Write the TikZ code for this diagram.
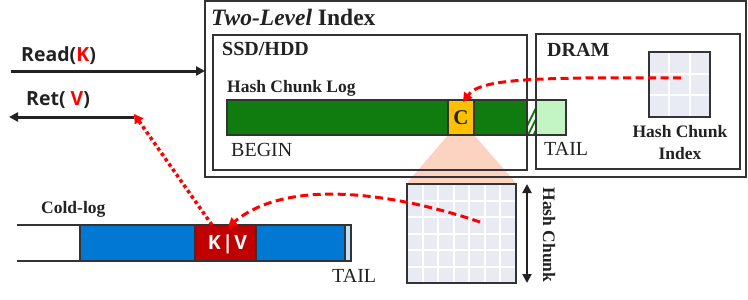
\documentclass[tikz,border=0pt]{standalone}
\usepackage{fontspec}
\setmainfont{Liberation Serif}
\newfontfamily\sansfam{Open Sans}
\usetikzlibrary{arrows.meta}
\definecolor{dkline}{HTML}{333333}
\definecolor{txtc}{HTML}{222222}
\definecolor{logGreen}{HTML}{107C10}
\definecolor{lightGreen}{HTML}{C2F5C2}
\definecolor{chunkOrange}{HTML}{FFC000}
\definecolor{coldBlue}{HTML}{0078D4}
\definecolor{kvRed}{HTML}{C00000}
\definecolor{tailBlue}{HTML}{C5E0F5}
\definecolor{fanPink}{HTML}{FCD3C1}
\definecolor{gridFill}{HTML}{E8EAF4}
\definecolor{arrRed}{HTML}{FF0000}
\begin{document}
\begin{tikzpicture}[x=1pt,y=-1pt,
  font=\color{txtc},
  region/.style={draw=dkline,line width=1.5pt,anchor=north west,inner sep=0pt,outer sep=0pt},
  outerbox/.style={draw=dkline,line width=2.2pt,anchor=north west,inner sep=0pt,outer sep=0pt},
  bar/.style={draw=dkline,line width=1.4pt,anchor=north west,inner sep=0pt,outer sep=0pt},
  gridbox/.style={fill=gridFill,anchor=north west,inner sep=0pt,outer sep=0pt},
  gridline/.style={white,line width=2pt},
  seriflbl/.style={anchor=base west,inner sep=0pt,font=\fontsize{20}{22}\selectfont\color{txtc}},
  boldlbl/.style={anchor=base west,inner sep=0pt,font=\fontsize{17.5}{20}\selectfont\bfseries\color{txtc}},
  titlelbl/.style={anchor=base west,inner sep=0pt,font=\fontsize{20}{22}\selectfont\bfseries\color{txtc}},
  sanslbl/.style={anchor=base west,inner sep=0pt,font=\fontsize{19.5}{22}\sansfam\bfseries\color{txtc}},
  blackarrow/.style={draw=txtc,line width=3pt,-{Triangle[length=9pt,width=9pt]}},
  reddash/.style={draw=arrRed,line width=3pt,dash pattern=on 8pt off 4.5pt,-{Triangle[length=9pt,width=10pt]}},
  reddot/.style={draw=arrRed,line width=3.5pt,dash pattern=on 3.5pt off 3pt,-{Triangle[length=9pt,width=10pt]}}
]
\useasboundingbox (0,0) rectangle (748,300);

% fan-out from chunk C to hash chunk (behind everything)
\coordinate (cbl) at (448,135);
\coordinate (cbr) at (474,135);
\fill[fanPink] (cbl) -- (cbr) -- (516,183) -- (407,183) -- cycle;

% outer Two-Level Index box
\node[outerbox,minimum width=541pt,minimum height=176pt] (outer) at (205,1) {};
\node[font=\fontsize{23.5}{26}\selectfont\bfseries\color{txtc},anchor=base west,inner sep=0pt] (title) at (211,25) {\textit{Two-Level} Index};

% SSD/HDD and DRAM boxes
\node[region,minimum width=314pt,minimum height=135pt] (ssd) at (213,35) {};
\node[titlelbl] (ssdlbl) at (222,55.5) {SSD/HDD};
\node[region,minimum width=204pt,minimum height=135pt] (dram) at (536,34) {};
\node[titlelbl] (dramlbl) at (547,56) {DRAM};

% Hash chunk log
\node[boldlbl] (hcllbl) at (227,92) {Hash Chunk Log};
\node[bar,fill=logGreen,minimum width=300pt,minimum height=35pt] (log) at (227,100) {};
\node[bar,fill=lightGreen,minimum width=30pt,minimum height=35pt] (logtail) at (536,100) {};
\begin{scope}
  \clip (527,100) rectangle (536,135);
  \foreach \i in {0,...,12} {
    \draw[logGreen,line width=1.8pt] (520+\i*5.5,140) -- (540+\i*5.5,100);
  }
\end{scope}
\draw[dkline,line width=1.4pt] (527,100) rectangle (536,135);
\node[bar,fill=chunkOrange,minimum width=26pt,minimum height=35pt] (C) at (448,100) {};
\node[font=\fontsize{21}{22}\selectfont\bfseries\color{txtc},inner sep=0pt] (Clbl) at (C.center) {C};
\node[seriflbl] (begin) at (231,156) {BEGIN};
\node[seriflbl] (tail1) at (544,155) {TAIL};

% Hash chunk index (DRAM)
\node[gridbox,minimum width=61pt,minimum height=65pt] (hci) at (649,52) {};
\foreach \k in {1,2} {
  \draw[gridline] (649+\k*61/3,52) -- (649+\k*61/3,117);
  \draw[gridline] (649,52+\k*65/3) -- (710,52+\k*65/3);
}
\draw[dkline,line width=1.5pt] (hci.north west) rectangle (hci.south east);
\node[boldlbl,anchor=base] (hcilbl1) at (680,137) {Hash Chunk};
\node[boldlbl,anchor=base] (hcilbl2) at (680,159) {Index};

% Hash chunk grid
\node[gridbox,minimum width=109pt,minimum height=99pt] (hc) at (407,184) {};
\foreach \k in {1,...,6} {
  \draw[gridline] (407+\k*109/7,184) -- (407+\k*109/7,283);
}
\foreach \k in {1,...,5} {
  \draw[gridline] (407,184+\k*99/6) -- (516,184+\k*99/6);
}
\draw[dkline,line width=1.5pt] (hc.north west) rectangle (hc.south east);
\draw[txtc,line width=2pt,{Triangle[length=9pt,width=9pt]}-{Triangle[length=9pt,width=9pt]}]
  ([xshift=11pt]hc.north east) -- ([xshift=11pt]hc.south east);
\node[font=\fontsize{17.5}{20}\selectfont\bfseries\color{txtc},rotate=-90,inner sep=0pt] (hclbl) at (549,235) {Hash Chunk};

% Cold log
\node[boldlbl] (coldlbl) at (41,213) {Cold-log};
\coordinate (clstart) at (17,225);
\draw[dkline,line width=1.4pt] (80,225) -- (clstart) (17,261) -- (80,261);
\node[bar,fill=coldBlue,minimum width=265pt,minimum height=36pt] (cold) at (80,225) {};
\node[bar,fill=tailBlue,minimum width=6pt,minimum height=36pt] (coldtail) at (345,225) {};
\node[bar,fill=kvRed,minimum width=61pt,minimum height=36pt] (kv) at (195,225) {};
\node[font=\fontsize{19.5}{22}\sansfam\bfseries\color{white},inner sep=0pt,anchor=base] (kvlbl) at (227.5,249) {K\kern1.5pt|\kern1.5pt V};
\node[seriflbl] (tail2) at (332,282) {TAIL};

% Read / Ret
\node[sanslbl] (readlbl) at (21,61) {Read(\textcolor{arrRed}{K})};
\node[sanslbl] (retlbl) at (26,105) {Ret( \textcolor{arrRed}{V})};
\coordinate (readstart) at (11,71);
\draw[blackarrow] (readstart) -- (outer.west |- readstart);
\coordinate (retstart) at (134,117);
\coordinate (retend) at (9,117);
\draw[blackarrow] (retstart) -- (retend);

% red connectors
\coordinate (hcisrc) at (681,78);
\draw[reddash] (hcisrc) .. controls (530,77) and (480,79) .. ([xshift=2pt,yshift=-2pt]C.north);
\coordinate (hcsrc) at (480,222);
\draw[reddash] (hcsrc) .. controls (400,195) and (290,176) .. ([xshift=33pt,yshift=-2pt]kv.north west);
\draw[reddot] ([xshift=17pt]kv.north west) -- ([yshift=3pt]retstart);
\end{tikzpicture}
\end{document}
